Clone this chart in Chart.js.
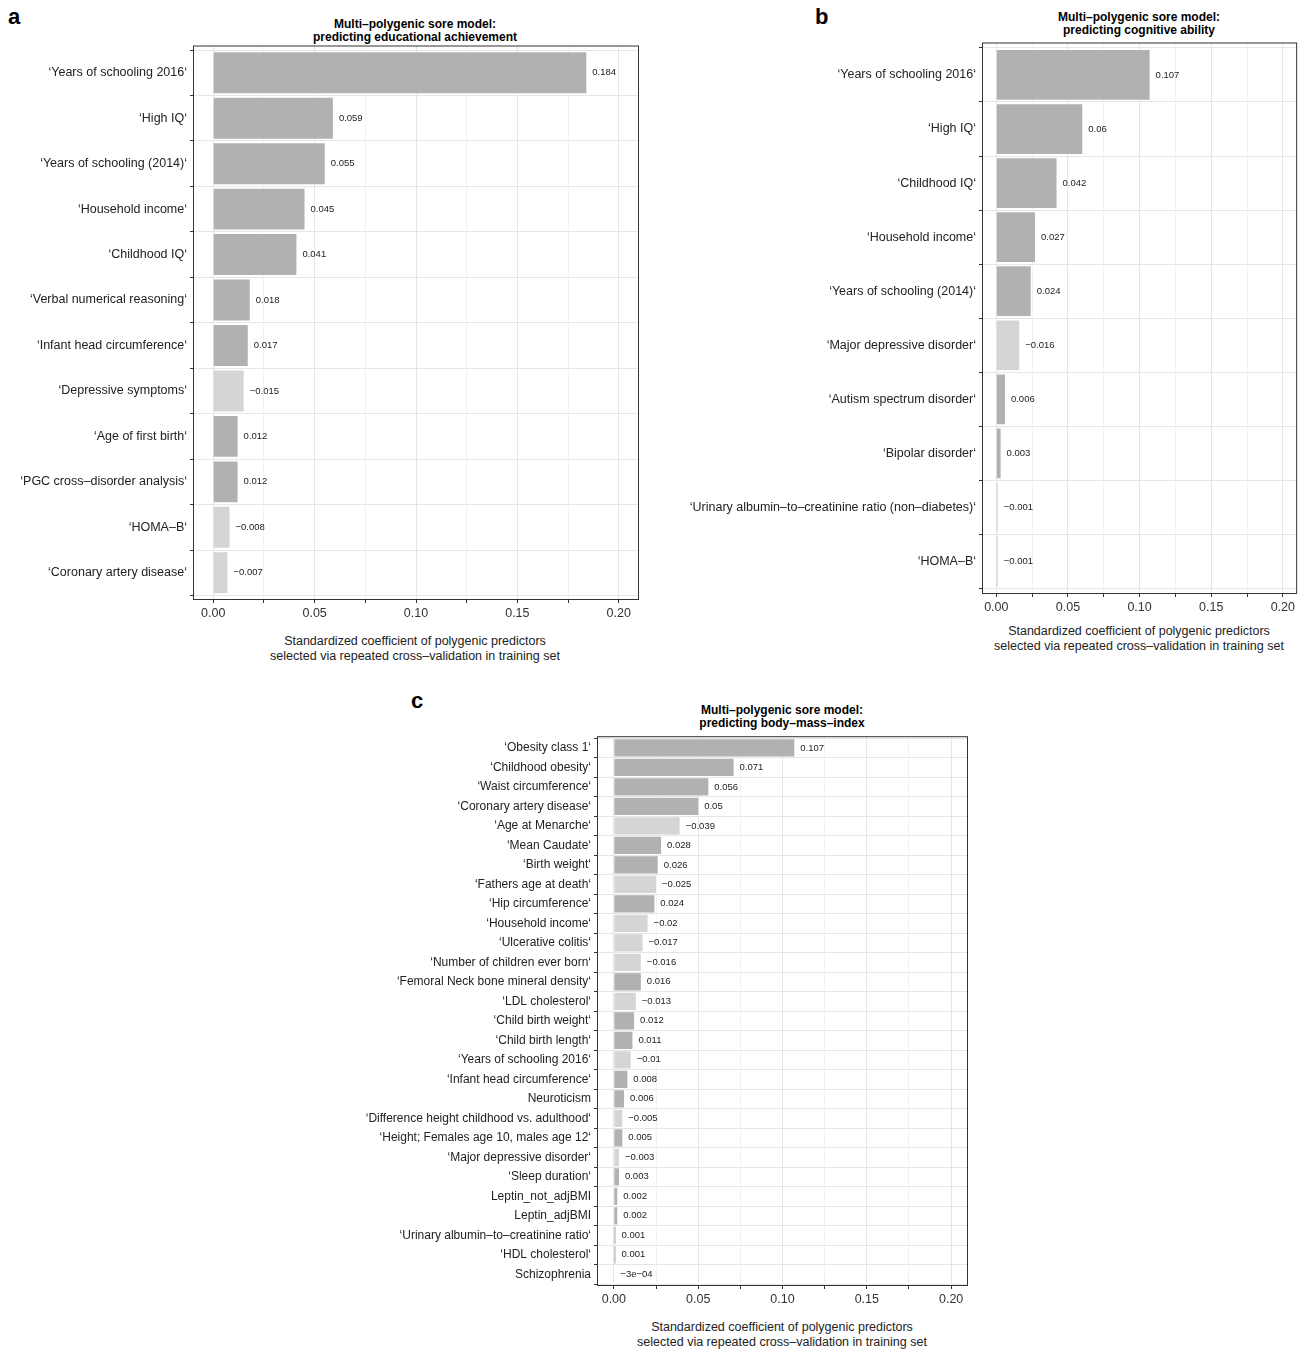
<!DOCTYPE html>
<html><head><meta charset="utf-8">
<script src="https://cdn.jsdelivr.net/npm/chart.js@4/dist/chart.umd.min.js"></script>
<style>
body{margin:0;width:1305px;height:1351px;background:#fff;font-family:"Liberation Sans",Arial,sans-serif;position:relative}
.box{position:absolute}
.lt{position:absolute;font-weight:bold;font-size:22px}
.tt{position:absolute;font-weight:bold;font-size:12px;text-align:center;line-height:13px}
.xt{position:absolute;font-size:12.5px;text-align:center;line-height:15px;color:#222}
</style></head><body>
<div class="lt" style="left:8px;top:4px">a</div>
<div class="lt" style="left:815px;top:4px">b</div>
<div class="lt" style="left:411px;top:688px">c</div>
<div class="tt" style="left:193px;width:444px;top:18px">Multi–polygenic sore model:<br>predicting educational achievement</div>
<div class="tt" style="left:982px;width:314px;top:11px">Multi–polygenic sore model:<br>predicting cognitive ability</div>
<div class="tt" style="left:597px;width:370px;top:704px">Multi–polygenic sore model:<br>predicting body–mass–index</div>
<div class="xt" style="left:193px;width:444px;top:634px">Standardized coefficient of polygenic predictors<br>selected via repeated cross–validation in training set</div>
<div class="xt" style="left:982px;width:314px;top:624px">Standardized coefficient of polygenic predictors<br>selected via repeated cross–validation in training set</div>
<div class="xt" style="left:597px;width:370px;top:1320px">Standardized coefficient of polygenic predictors<br>selected via repeated cross–validation in training set</div>
<div class="box" style="left:0;top:35px;width:639px;height:590px"><canvas id="ca"></canvas></div>
<div class="box" style="left:650px;top:32px;width:648px;height:587px"><canvas id="cb"></canvas></div>
<div class="box" style="left:300px;top:726px;width:668px;height:585px"><canvas id="cc"></canvas></div>
<script>
const labelsA = ["‘Years of schooling 2016‘","‘High IQ‘","‘Years of schooling (2014)‘","‘Household income‘","‘Childhood IQ‘","‘Verbal numerical reasoning‘","‘Infant head circumference‘","‘Depressive symptoms‘","‘Age of first birth‘","‘PGC cross–disorder analysis‘","‘HOMA–B‘","‘Coronary artery disease‘"];
const valuesA = [0.184,0.059,0.055,0.045,0.041,0.018,0.017,-0.015,0.012,0.012,-0.008,-0.007];
const labelsB = ["‘Years of schooling 2016‘","‘High IQ‘","‘Childhood IQ‘","‘Household income‘","‘Years of schooling (2014)‘","‘Major depressive disorder‘","‘Autism spectrum disorder‘","‘Bipolar disorder‘","‘Urinary albumin–to–creatinine ratio (non–diabetes)‘","‘HOMA–B‘"];
const valuesB = [0.107,0.06,0.042,0.027,0.024,-0.016,0.006,0.003,-0.001,-0.001];
const labelsC = ["‘Obesity class 1‘","‘Childhood obesity‘","‘Waist circumference‘","‘Coronary artery disease‘","‘Age at Menarche‘","‘Mean Caudate‘","‘Birth weight‘","‘Fathers age at death‘","‘Hip circumference‘","‘Household income‘","‘Ulcerative colitis‘","‘Number of children ever born‘","‘Femoral Neck bone mineral density‘","‘LDL cholesterol‘","‘Child birth weight‘","‘Child birth length‘","‘Years of schooling 2016‘","‘Infant head circumference‘","Neuroticism","‘Difference height childhood vs. adulthood‘","‘Height; Females age 10, males age 12‘","‘Major depressive disorder‘","‘Sleep duration‘","Leptin_not_adjBMI","Leptin_adjBMI","‘Urinary albumin–to–creatinine ratio‘","‘HDL cholesterol‘","Schizophrenia"];
const valuesC = [0.107,0.071,0.056,0.05,-0.039,0.028,0.026,-0.025,0.024,-0.02,-0.017,-0.016,0.016,-0.013,0.012,0.011,-0.01,0.008,0.006,-0.005,0.005,-0.003,0.003,0.002,0.002,0.001,0.001,-0.0003];

function fmt(v){
  if (v === -0.0003) return "−3e−04";
  let s = String(Math.abs(v));
  return (v < 0 ? "−" : "") + s;
}
const valueLabels = {
  id:'valueLabels',
  afterDatasetsDraw(chart){
    const ctx = chart.ctx, raw = chart.config.options.rawValues;
    const meta = chart.getDatasetMeta(0);
    ctx.save(); ctx.font = '9.5px "Liberation Sans", Arial'; ctx.fillStyle = '#222'; ctx.textBaseline = 'middle';
    meta.data.forEach((el,i)=>{ ctx.fillText(fmt(raw[i]), el.x + 6, el.y); });
    ctx.restore();
  }
};
const frame = {
  id:'frame',
  afterDraw(chart){
    const a = chart.chartArea, ctx = chart.ctx;
    ctx.save(); ctx.strokeStyle='#333'; ctx.lineWidth=1;
    ctx.strokeRect(a.left+0.5,a.top+0.5,a.right-a.left-1,a.bottom-a.top-1); ctx.restore();
  }
};
function make(id, labels, values, yw, fs, bp){
  const n = labels.length;
  new Chart(document.getElementById(id), {
    type:'bar',
    data:{datasets:[{data:values.map((v,i)=>({x:Math.abs(v), y:i})),
      backgroundColor:values.map(v=>v<0?'#d4d5d7':'#b0b1b3'),
      barPercentage:bp, categoryPercentage:1}]},
    plugins:[valueLabels, frame],
    options:{
      rawValues: values, indexAxis:'y', responsive:true, maintainAspectRatio:false, animation:false,
      layout:{padding:0},
      plugins:{legend:{display:false}, tooltip:{enabled:false}},
      scales:{
        x:{type:'linear',min:-0.01,max:0.21,afterBuildTicks(ax){ax.ticks=[];for(let k=0;k<=8;k++)ax.ticks.push({value:k*0.025});},
          afterFit(ax){ax.height=25;},
          grid:{color:c=>(Math.round(c.tick.value*1000)%50===0)?'#e6e6e6':'#f2f2f2',drawTicks:true,tickLength:3,tickColor:'#333'},
          border:{display:false},
          ticks:{color:'#333',font:{size:12.5,family:'"Liberation Sans", Arial'},autoSkip:false,maxRotation:0,
            callback:v=>(Math.round(v*1000)%50===0)?v.toFixed(2):''}},
        y:{type:'linear',reverse:true,min:-0.6,max:n-0.4,offset:false,
          afterBuildTicks(ax){ax.ticks=labels.map((l,i)=>({value:i}));},
          afterFit(ax){ax.width=yw;},grid:{color:'#e6e6e6',tickLength:3,tickColor:'#333'},border:{display:false},
          ticks:{color:'#222',font:{size:fs,family:'"Liberation Sans", Arial'},autoSkip:false,callback:v=>labels[v]}}
      }
    }
  });
}
make('ca', labelsA, valuesA, 193, 12.5, 0.9);
make('cb', labelsB, valuesB, 332, 12.5, 0.92);
make('cc', labelsC, valuesC, 297, 12, 0.88);
</script>
</body></html>
